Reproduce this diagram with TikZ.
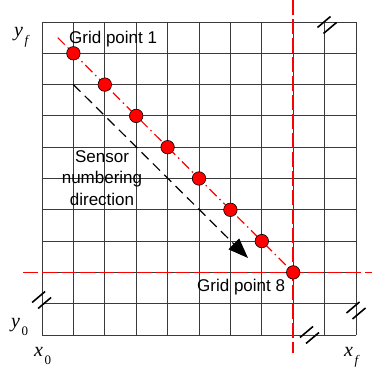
\documentclass[tikz,border=0pt]{standalone}
\usepackage{fontspec}
\setmainfont{Liberation Sans}
\newfontfamily\axisfont{Liberation Serif}
\usepackage{tikz}
\usetikzlibrary{arrows.meta,backgrounds}
\definecolor{limitRed}{HTML}{FF0000}
\definecolor{gridGray}{HTML}{3A3A3A}
\newcommand{\axislab}[2]{{\axisfont\fontsize{20}{20}\selectfont\itshape #1}\hspace{1.5pt}\raisebox{-8pt}{\axisfont\fontsize{13}{13}\selectfont #2}}

\begin{document}
\begin{tikzpicture}[x=1pt, y=-1pt,
  gridline/.style={gridGray, line width=0.8pt},
  limit/.style={limitRed, line width=1.5pt, dash pattern=on 15pt off 4pt},
  sensorpath/.style={limitRed, line width=1.2pt, dash pattern=on 10pt off 4pt on 1.5pt off 4pt},
  numdir/.style={black, line width=1.2pt, dash pattern=on 10pt off 6pt, -{Triangle[length=20pt,width=15pt]}},
  sensor/.style={circle, draw=black, line width=0.6pt, fill=limitRed, minimum size=13.5pt, inner sep=0pt},
  lbl/.style={font=\fontsize{17}{21.5}\selectfont, inner sep=0pt},
  brk/.pic={\draw[line width=1.6pt] (-9.5,2.5) -- (3.5,-8.5) (-3.5,8.5) -- (9.5,-2.5);}]
  \useasboundingbox (0,0) rectangle (372,371);

  % Grid
  \foreach \i in {0,...,10} {
    \draw[gridline] ({42+31.4*\i},22) -- ({42+31.4*\i},335);
    \draw[gridline] (42,{22+31.3*\i}) -- (356,{22+31.3*\i});
  }

  % Limits through grid point 8
  \coordinate (xtop) at (293.2,0);
  \coordinate (xbot) at (293.2,353);
  \coordinate (yleft) at (23,272.4);
  \coordinate (yright) at (372,272.4);
  \draw[limit] (xtop) -- (xbot);
  \draw[limit] (yleft) -- (yright);

  % Sensors
  \foreach \k in {1,...,8}
    \node[sensor] (p\k) at ({42+31.4*\k},{22+31.3*\k}) {};
  \coordinate (s0) at (57.7,37.6);
  \begin{pgfonlayer}{background}
    \draw[sensorpath] (s0) -- (p8.center);
  \end{pgfonlayer}

  % Numbering direction
  \coordinate (a0) at (73.4,84.6);
  \coordinate (a1) at (248,258);
  \draw[numdir] (a0) -- (a1);

  \node[lbl, anchor=west] (gp1) at (69,39) {Grid point 1};
  \node[lbl, anchor=west] (gp8) at (197,287) {Grid point 8};
  \node[lbl, align=center] (dirlab) at (102,178) {Sensor\\numbering\\direction};

  % Axis limits
  \node[anchor=base west, inner sep=0pt] (yf) at (14,37) {\axislab{y}{\itshape f}};
  \node[anchor=base west, inner sep=0pt] (y0) at (11,327) {\axislab{y}{0}};
  \node[anchor=base west, inner sep=0pt] (x0) at (34,356) {\axislab{x}{0}};
  \node[anchor=base west, inner sep=0pt] (xf) at (344,356) {\axislab{x}{\itshape f}};

  % Breaks
  \pic at (327,25) {brk};
  \pic at (41.6,300) {brk};
  \pic at (309.5,335) {brk};
  \pic at (356,310.5) {brk};
\end{tikzpicture}
\end{document}
